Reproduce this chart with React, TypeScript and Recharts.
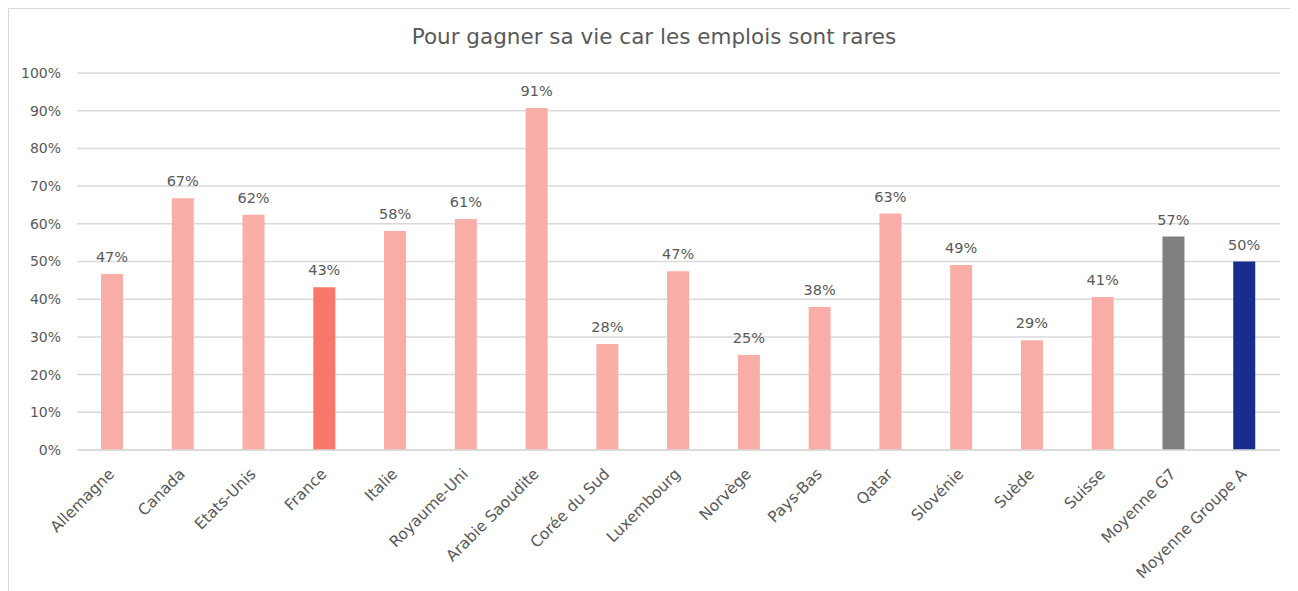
import React from "react";
import { BarChart, Bar, XAxis, YAxis, CartesianGrid, Cell, LabelList } from "recharts";

const categories = [
  "Allemagne", "Canada", "Etats-Unis", "France", "Italie", "Royaume-Uni",
  "Arabie Saoudite", "Corée du Sud", "Luxembourg", "Norvège", "Pays-Bas",
  "Qatar", "Slovénie", "Suède", "Suisse", "Moyenne G7", "Moyenne Groupe A",
];
const values = [46.7, 66.8, 62.4, 43.2, 58.1, 61.3, 90.7, 28.1, 47.4, 25.2, 37.9, 62.7, 49.1, 29.1, 40.6, 56.6, 50.0];
const yTicks = [0, 10, 20, 30, 40, 50, 60, 70, 80, 90, 100];
const title = "Pour gagner sa vie car les emplois sont rares";

const FONT = "'DejaVu Sans', sans-serif";
const colorFor = (name: string) => {
  if (name === "France") return "#F8766B";
  if (name === "Moyenne G7") return "#808080";
  if (name === "Moyenne Groupe A") return "#172E8F";
  return "#F9ADA7";
};

const data = categories.map((name, i) => ({ name, value: values[i] }));

const XTick = (props: any) => {
  const { x, y, payload } = props;
  return (
    <g transform={`translate(${x},${y})`}>
      <text
        x={0}
        y={0}
        dx={-10}
        dy={14}
        textAnchor="end"
        transform="rotate(-45)"
        fill="#595959"
        fontSize={15.5}
        fontFamily={FONT}
      >
        {payload.value}
      </text>
    </g>
  );
};

export default function App() {
  return (
    <div
      style={{
        position: "relative",
        width: 1295,
        height: 600,
        border: "1px solid #d9d9d9",
        boxSizing: "border-box",
        background: "#fff",
      }}
    >
      <div
        style={{
          position: "absolute",
          top: 15,
          left: 0,
          width: 1290,
          textAlign: "center",
          fontFamily: FONT,
          fontSize: 21.5,
          color: "#595959",
        }}
      >
        {title}
      </div>
      <BarChart
        width={1290}
        height={590}
        data={data}
        margin={{ top: 64, right: 19, bottom: 19, left: 18 }}
      >
        <CartesianGrid vertical={false} stroke="#d9d9d9" strokeWidth={1.5} />
        <XAxis
          dataKey="name"
          interval={0}
          height={130}
          tick={<XTick />}
          tickLine={false}
          axisLine={{ stroke: "#d9d9d9", strokeWidth: 1.5 }}
        />
        <YAxis
          width={50}
          domain={[0, 100]}
          ticks={yTicks}
          tickFormatter={(v: number) => `${v}%`}
          tickLine={false}
          axisLine={false}
          tickSize={0}
          tickMargin={16}
          tick={{ fill: "#595959", fontSize: 14, fontFamily: FONT }}
        />
        <Bar dataKey="value" barSize={22} isAnimationActive={false}>
          {data.map((d) => (
            <Cell key={d.name} fill={colorFor(d.name)} />
          ))}
          <LabelList
            dataKey="value"
            position="top"
            offset={12}
            formatter={(v: number) => `${Math.round(v)}%`}
            fill="#595959"
            fontSize={14.5}
            fontFamily={FONT}
          />
        </Bar>
      </BarChart>
    </div>
  );
}
